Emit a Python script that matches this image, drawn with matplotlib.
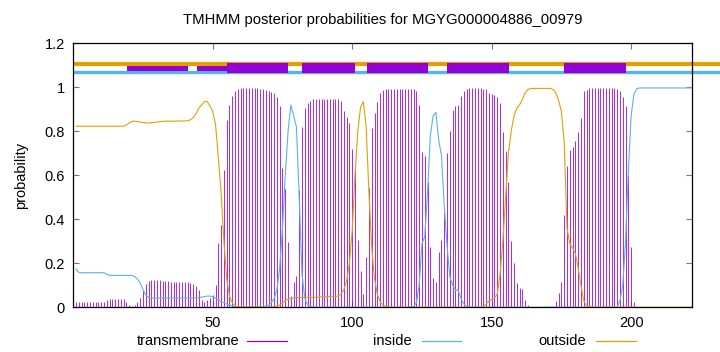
import numpy as np
import matplotlib
matplotlib.use('Agg')
import matplotlib.pyplot as plt
from matplotlib.patches import Rectangle
from matplotlib.lines import Line2D

plt.rcParams['font.family'] = ['Liberation Sans', 'DejaVu Sans']

title = 'TMHMM posterior probabilities for MGYG000004886_00979'

# per-residue posterior probabilities (residues 1..222)
transmembrane = [
    0.022, 0.022, 0.022, 0.022, 0.024, 0.024, 0.024, 0.024, 0.024, 0.024,
    0.026, 0.034, 0.036, 0.036, 0.036, 0.036, 0.036, 0.036, 0.026, 0.012,
    0.008, 0.012, 0.024, 0.040, 0.075, 0.106, 0.118, 0.124, 0.122, 0.122,
    0.122, 0.120, 0.118, 0.118, 0.116, 0.116, 0.116, 0.116, 0.116, 0.116,
    0.114, 0.110, 0.105, 0.098, 0.080, 0.035, 0.022, 0.032, 0.042, 0.058,
    0.100, 0.290, 0.374, 0.624, 0.851, 0.920, 0.960, 0.985, 0.994, 0.997,
    0.997, 0.997, 0.997, 0.997, 0.997, 0.997, 0.994, 0.991, 0.988, 0.985,
    0.980, 0.975, 0.958, 0.916, 0.631, 0.537, 0.298, 0.051, 0.115, 0.142,
    0.533, 0.820, 0.906, 0.930, 0.939, 0.947, 0.947, 0.947, 0.947, 0.947,
    0.947, 0.947, 0.947, 0.947, 0.947, 0.939, 0.894, 0.864, 0.839, 0.718,
    0.627, 0.306, 0.165, 0.060, 0.230, 0.540, 0.813, 0.881, 0.933, 0.976,
    0.988, 0.991, 0.991, 0.991, 0.991, 0.991, 0.991, 0.991, 0.991, 0.991,
    0.991, 0.991, 0.983, 0.920, 0.707, 0.688, 0.571, 0.276, 0.132, 0.114,
    0.250, 0.306, 0.427, 0.700, 0.801, 0.897, 0.916, 0.920, 0.960, 0.983,
    0.994, 0.997, 0.997, 0.997, 0.997, 0.997, 0.991, 0.991, 0.975, 0.969,
    0.965, 0.955, 0.927, 0.798, 0.712, 0.571, 0.302, 0.203, 0.109, 0.086,
    0.083, 0.033, 0.010, 0.003, 0.003, 0.003, 0.003, 0.003, 0.003, 0.005,
    0.006, 0.008, 0.030, 0.064, 0.114, 0.420, 0.640, 0.715, 0.727, 0.757,
    0.798, 0.859, 0.985, 0.988, 0.997, 0.997, 0.997, 0.997, 0.997, 0.997,
    0.997, 0.997, 0.997, 0.997, 0.990, 0.983, 0.954, 0.915, 0.601, 0.276,
    0.024, 0.002, 0.000, 0.000, 0.000, 0.000, 0.000, 0.000, 0.000, 0.000,
    0.000, 0.000, 0.000, 0.000, 0.000, 0.000, 0.000, 0.000, 0.000, 0.000,
    0.000, 0.000,
]

inside = [
    0.174, 0.158, 0.157, 0.157, 0.157, 0.157, 0.157, 0.157, 0.157, 0.157,
    0.157, 0.150, 0.145, 0.145, 0.145, 0.145, 0.145, 0.145, 0.145, 0.145,
    0.145, 0.140, 0.128, 0.110, 0.080, 0.055, 0.045, 0.042, 0.042, 0.042,
    0.042, 0.042, 0.042, 0.042, 0.042, 0.042, 0.042, 0.042, 0.042, 0.042,
    0.042, 0.042, 0.042, 0.043, 0.044, 0.046, 0.049, 0.051, 0.051, 0.048,
    0.042, 0.034, 0.026, 0.020, 0.014, 0.010, 0.007, 0.004, 0.002, 0.001,
    0.001, 0.001, 0.001, 0.001, 0.001, 0.001, 0.002, 0.003, 0.005, 0.008,
    0.020, 0.040, 0.080, 0.180, 0.360, 0.600, 0.800, 0.920, 0.870, 0.820,
    0.500, 0.150, 0.040, 0.012, 0.004, 0.001, 0.000, 0.000, 0.000, 0.000,
    0.000, 0.000, 0.000, 0.000, 0.000, 0.000, 0.000, 0.000, 0.000, 0.000,
    0.000, 0.000, 0.000, 0.000, 0.000, 0.000, 0.000, 0.000, 0.000, 0.000,
    0.000, 0.000, 0.000, 0.000, 0.000, 0.000, 0.000, 0.000, 0.000, 0.000,
    0.001, 0.003, 0.020, 0.100, 0.290, 0.320, 0.520, 0.780, 0.870, 0.886,
    0.760, 0.690, 0.460, 0.280, 0.140, 0.100, 0.080, 0.076, 0.040, 0.015,
    0.005, 0.001, 0.000, 0.000, 0.000, 0.000, 0.000, 0.000, 0.000, 0.000,
    0.000, 0.000, 0.000, 0.000, 0.000, 0.000, 0.000, 0.000, 0.000, 0.000,
    0.000, 0.000, 0.000, 0.000, 0.000, 0.000, 0.000, 0.000, 0.000, 0.000,
    0.000, 0.000, 0.000, 0.000, 0.000, 0.000, 0.000, 0.000, 0.000, 0.000,
    0.000, 0.000, 0.000, 0.000, 0.000, 0.000, 0.000, 0.000, 0.000, 0.000,
    0.000, 0.000, 0.000, 0.000, 0.002, 0.030, 0.100, 0.300, 0.620, 0.870,
    0.970, 0.993, 0.997, 0.997, 0.997, 0.997, 0.997, 0.997, 0.997, 0.997,
    0.997, 0.997, 0.997, 0.997, 0.997, 0.997, 0.997, 0.997, 0.997, 0.997,
    0.997, 0.997,
]

outside = [
    0.823, 0.823, 0.823, 0.823, 0.823, 0.823, 0.823, 0.823, 0.823, 0.823,
    0.823, 0.823, 0.823, 0.823, 0.823, 0.823, 0.823, 0.823, 0.828, 0.838,
    0.845, 0.846, 0.844, 0.842, 0.840, 0.838, 0.838, 0.839, 0.840, 0.842,
    0.844, 0.845, 0.846, 0.846, 0.846, 0.846, 0.846, 0.847, 0.847, 0.847,
    0.848, 0.852, 0.862, 0.880, 0.905, 0.920, 0.935, 0.935, 0.915, 0.890,
    0.830, 0.680, 0.520, 0.300, 0.130, 0.050, 0.020, 0.008, 0.003, 0.001,
    0.001, 0.001, 0.001, 0.001, 0.001, 0.001, 0.001, 0.001, 0.001, 0.001,
    0.001, 0.002, 0.005, 0.010, 0.020, 0.030, 0.037, 0.040, 0.042, 0.045,
    0.045, 0.045, 0.045, 0.045, 0.045, 0.045, 0.045, 0.047, 0.048, 0.048,
    0.049, 0.050, 0.050, 0.050, 0.051, 0.060, 0.080, 0.120, 0.200, 0.350,
    0.600, 0.800, 0.910, 0.935, 0.820, 0.520, 0.270, 0.130, 0.060, 0.025,
    0.010, 0.005, 0.002, 0.001, 0.000, 0.000, 0.000, 0.000, 0.000, 0.000,
    0.000, 0.000, 0.000, 0.000, 0.000, 0.000, 0.000, 0.000, 0.000, 0.000,
    0.000, 0.000, 0.000, 0.000, 0.000, 0.000, 0.000, 0.000, 0.000, 0.000,
    0.000, 0.000, 0.000, 0.000, 0.000, 0.000, 0.003, 0.015, 0.028, 0.035,
    0.042, 0.060, 0.150, 0.300, 0.500, 0.700, 0.800, 0.870, 0.905, 0.920,
    0.945, 0.975, 0.990, 0.995, 0.995, 0.995, 0.995, 0.995, 0.995, 0.995,
    0.995, 0.990, 0.975, 0.940, 0.890, 0.750, 0.360, 0.290, 0.270, 0.245,
    0.180, 0.100, 0.030, 0.008, 0.003, 0.001, 0.000, 0.000, 0.000, 0.000,
    0.000, 0.000, 0.000, 0.000, 0.000, 0.000, 0.000, 0.000, 0.000, 0.000,
    0.000, 0.000, 0.000, 0.000, 0.000, 0.000, 0.000, 0.000, 0.000, 0.000,
    0.000, 0.000, 0.000, 0.000, 0.000, 0.000, 0.000, 0.000, 0.000, 0.000,
    0.000, 0.000,
]

# predicted topology segments on top (start, end)
tm_segments = [(55.0, 77.1), (81.9, 101.0), (105.2, 127.0), (133.9, 156.1), (176.0, 198.0)]
minor_segments = [(19.2, 41.1), (44.2, 55.0)]

seq_len = len(transmembrane)
residues = np.arange(1, seq_len + 1)

PURPLE = '#9400d3'
BLUE = '#56b4e9'
ORANGE = '#e69f00'

fig = plt.figure(figsize=(7.2, 3.52), dpi=100)
ax = fig.add_axes([0.1018, 0.127, 0.86, 0.75])

ax.vlines(residues, 0, transmembrane, color=PURPLE, lw=0.75, alpha=0.8)
ax.plot(residues, inside, color=BLUE, lw=0.8)
ax.plot(residues, outside, color=ORANGE, lw=0.8)

# topology bar
ax.plot([0, 240], [1.107, 1.107], color=ORANGE, lw=3.0, solid_capstyle='butt', clip_on=False)
ax.plot([0, 240], [1.069, 1.069], color=BLUE, lw=2.4, solid_capstyle='butt', clip_on=False)
for s, e in minor_segments:
    ax.add_patch(Rectangle((s, 1.075), e - s, 0.024, facecolor=PURPLE, edgecolor='none', zorder=3))
for s, e in tm_segments:
    ax.add_patch(Rectangle((s, 1.063), e - s, 0.049, facecolor=PURPLE, edgecolor='none', zorder=3))

ax.set_xlim(0, 222)
ax.set_ylim(0, 1.2)
ax.set_xticks([50, 100, 150, 200])
ax.set_yticks([0, 0.2, 0.4, 0.6, 0.8, 1.0, 1.2])
ax.set_yticklabels(['0', '0.2', '0.4', '0.6', '0.8', '1', '1.2'])
ax.tick_params(direction='in', top=True, right=True, length=4, width=0.8,
               color='#777777', labelsize=10.5, pad=6)
for sp in ax.spines.values():
    sp.set_linewidth(0.9)
ax.set_ylabel('probability', fontsize=10.5, labelpad=12)
ax.set_title(title, fontsize=10.7, pad=14)

# legend along the bottom
leg_y = 0.031
entries = [('transmembrane', PURPLE, 239, 247, 287),
           ('inside', BLUE, 412, 422, 461),
           ('outside', ORANGE, 586, 596, 636)]
for label, col, tx, x0, x1 in entries:
    fig.text(tx / 720, leg_y, label, ha='right', va='center', fontsize=10.5)
    fig.add_artist(Line2D([x0 / 720, x1 / 720], [leg_y, leg_y], color=col, lw=0.9))

fig.savefig('out.png', dpi=100)
